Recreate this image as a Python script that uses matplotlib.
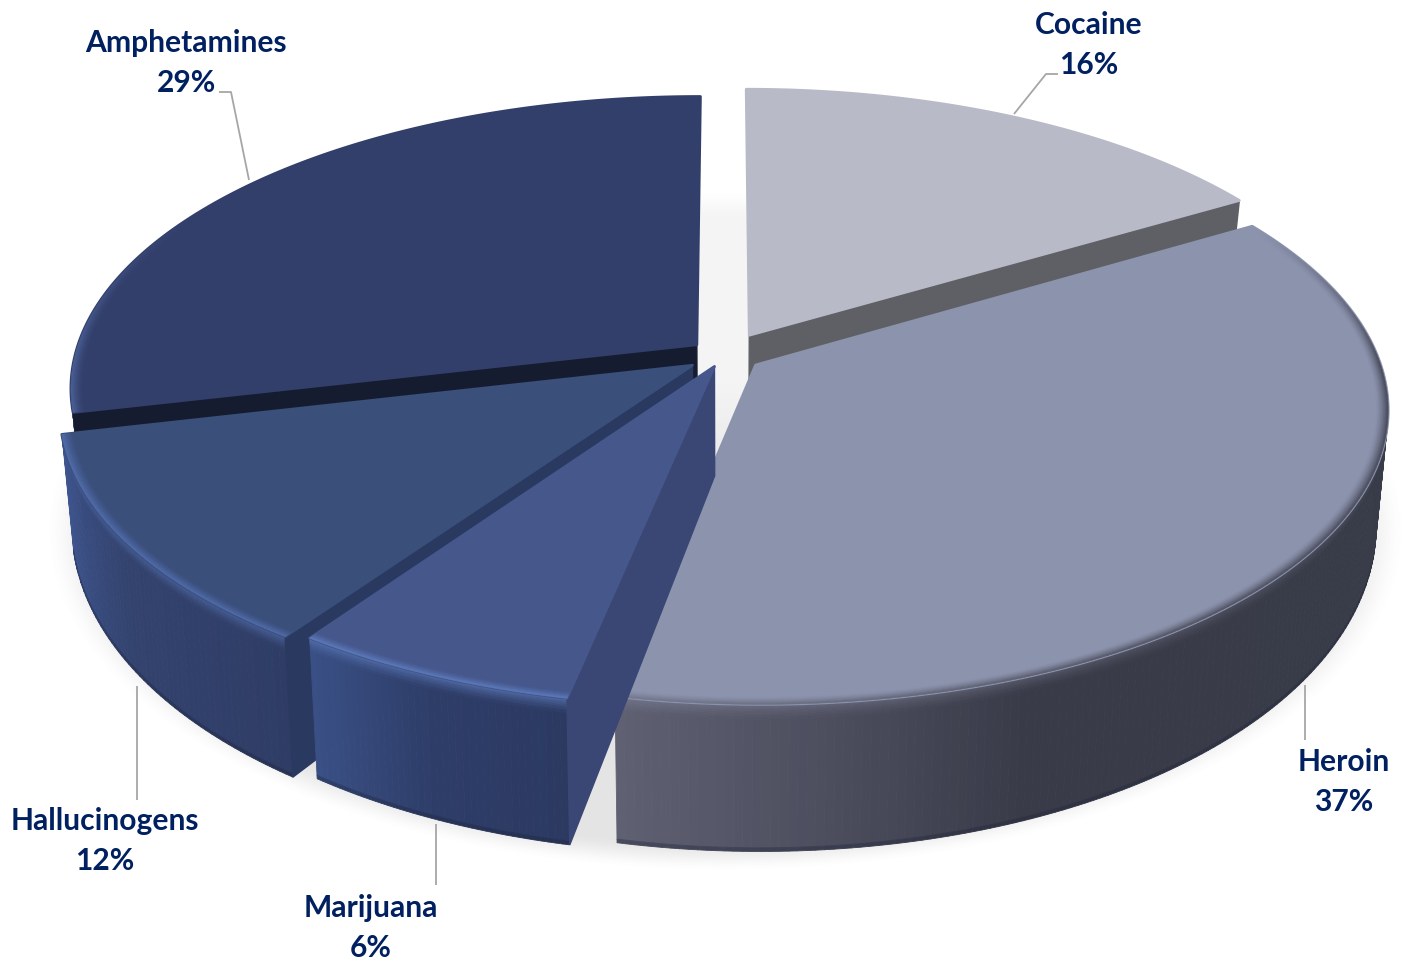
import numpy as np
import matplotlib
matplotlib.use("Agg")
import matplotlib.pyplot as plt
from matplotlib.collections import PolyCollection
from matplotlib.colors import to_rgb

# -------------------------
# DATA
# -------------------------
categories = ["Cocaine", "Heroin", "Marijuana", "Hallucinogens", "Amphetamines"]
# the labels show them rounded
shares = [16.4, 36.8, 6.4, 11.7, 28.7]

# -------------------------
# STYLE
# -------------------------
explode = [0.08, 0.06, 0.043, 0.063, 0.058]
top_colors = ["#b8bac8", "#8c93ad", "#46578c", "#3b4f7b", "#333f6b"]
cut_colors = ["#5f6065", "#5f6065", "#3a4775", "#2a3960", "#151c30"]
wall_stops = [
    ["#5f6065", "#5f6065", "#5f6065"],
    ["#383c48", "#383c48", "#383b48", "#3a3b49", "#5f6072"],
    ["#2c3a62", "#2e3d68", "#3a5186"],
    ["#2f3d66", "#33436e", "#3f5590"],
    ["#3d5184", "#333f6b", "#333f6b"],
]
rim_stops = [
    ["#8a8c98", "#8a8c98"],
    ["#4a4d5e", "#4c4f60", "#565969", "#767a90"],
    ["#5a78b8", "#5a78b8"],
    ["#4f6aa8", "#4f6aa8"],
    ["#4a5f95", "#333f6b"],
]
draw_order = [0, 4, 3, 1, 2]

# label text centre and leader line for each slice, pixels
label_pos = [(1089, 45), (1344, 782), (371, 928), (105, 841), (186, 63)]
leaders = [
    [(1058, 74), (1046, 74), (1014, 114)],
    [(1305, 685), (1305, 740)],
    [(436, 824), (436, 885)],
    [(137, 686), (137, 800)],
    [(219, 92), (231, 92), (249, 180)],
]

# projection of the pie plane to pixels
CX, CY = 725, 355
RX, RY = 622, 287
PERSP = 0.145
HEIGHT = 108
W, H = 1403, 961


def project(x, y):
    d = 1 + PERSP * y
    return CX + RX * x / d, CY - RY * y / d


def drop(x, y, v):
    # screen position of a plane point pushed down a fraction v of the pie height
    sx, sy = project(x, y)
    sx = CX + (sx - CX) * (1 - 0.018 * v)
    return sx, sy + v * HEIGHT * (1 - 0.35 * y)


def mix(a, b, f):
    a, b = np.array(to_rgb(a)), np.array(to_rgb(b))
    return tuple(a + (b - a) * f)


def ramp(stops, t):
    pos = t * (len(stops) - 1)
    i = min(int(pos), len(stops) - 2)
    return mix(stops[i], stops[i + 1], pos - i)


fig = plt.figure(figsize=(W / 100, H / 100), dpi=100)
ax = fig.add_axes([0, 0, 1, 1])
ax.set_xlim(0, W)
ax.set_ylim(H, 0)
ax.axis("off")

# -------------------------
# SOFT SHADOW
# -------------------------
X, Y = np.meshgrid(np.arange(W), np.arange(H))
dist = np.sqrt(((X - 725) / 682) ** 2 + ((Y - 530) / 342) ** 2)
alpha = np.clip((1 - dist) / 0.09, 0, 1)
shadow = np.zeros((H, W, 4))
shadow[..., :3] = 0.35
fade = 0.4 + 0.6 * np.clip((Y - 380) / 120, 0, 1)
shadow[..., 3] = 0.16 * fade * alpha * alpha * (3 - 2 * alpha)
ax.imshow(shadow, extent=(0, W, H, 0), zorder=1, aspect="auto")

# -------------------------
# SLICES
# -------------------------
fractions = np.array(shares) / sum(shares)
ends = np.cumsum(fractions) * 2 * np.pi
starts = ends - fractions * 2 * np.pi

z = 2
for i in draw_order:
    a0, a1 = starts[i], ends[i]
    mid = (a0 + a1) / 2
    ox, oy = explode[i] * np.sin(mid), explode[i] * np.cos(mid)
    th = np.linspace(a0, a1, max(int(fractions[i] * 500), 40))
    px, py = ox + np.sin(th), oy + np.cos(th)

    # outer wall, soft where it meets the top and darker at the foot
    rows = [0, 0.01, 0.02, 0.03, 0.045, 0.06, 0.08, 0.1, 0.975, 1]
    quads, colors = [], []
    for j in range(len(th) - 1):
        if np.cos(th[j]) > 0.1:
            continue  # faces away from the viewer
        t = (j + 0.5) / (len(th) - 1)
        base = ramp(wall_stops[i], t)
        rim = ramp(rim_stops[i], t)
        for r0, r1 in zip(rows[:-1], rows[1:]):
            quads.append([
                drop(px[j], py[j], r0), drop(px[j + 1], py[j + 1], r0),
                drop(px[j + 1], py[j + 1], r1), drop(px[j], py[j], r1),
            ])
            v = (r0 + r1) / 2
            c = mix(rim, base, min(v / 0.1, 1) ** 0.6)
            if v > 0.975:
                c = mix(c, "#1a2036", 0.35)
            colors.append(c)
    if quads:
        ax.add_collection(PolyCollection(quads, facecolors=colors, edgecolors=colors,
                                         linewidths=0.6, zorder=z))

    # cut faces, only the ones turned towards the viewer
    cuts = []
    if np.sin(a0) < -1e-6:
        cuts.append((px[0], py[0]))
    if np.sin(a1) > 1e-6:
        cuts.append((px[-1], py[-1]))
    for ex, ey in cuts:
        quad = [drop(ox, oy, 0), drop(ex, ey, 0), drop(ex, ey, 1), drop(ox, oy, 1)]
        ax.fill(*zip(*quad), color=cut_colors[i], lw=1, zorder=z + 0.1)

    # top face
    outline = [project(ox, oy)] + [project(a, b) for a, b in zip(px, py)]
    ax.fill(*zip(*outline), facecolor=top_colors[i], edgecolor=top_colors[i],
            lw=2, joinstyle="round", zorder=z + 0.2)

    # light band just inside the edge of the top face
    steps = np.linspace(0.982, 1.0, 9)
    quads, colors = [], []
    for j in range(len(th) - 1):
        t = (j + 0.5) / (len(th) - 1)
        front = np.clip((0.5 - np.cos((th[j] + th[j + 1]) / 2)) / 0.5, 0, 1)
        rim = mix(top_colors[i], ramp(rim_stops[i], t), front)
        for s0, s1 in zip(steps[:-1], steps[1:]):
            quads.append([
                project(ox + s0 * np.sin(th[j]), oy + s0 * np.cos(th[j])),
                project(ox + s0 * np.sin(th[j + 1]), oy + s0 * np.cos(th[j + 1])),
                project(ox + s1 * np.sin(th[j + 1]), oy + s1 * np.cos(th[j + 1])),
                project(ox + s1 * np.sin(th[j]), oy + s1 * np.cos(th[j])),
            ])
            colors.append(mix(top_colors[i], rim, ((s1 - 0.982) / 0.018) ** 1.5))
    ax.add_collection(PolyCollection(quads, facecolors=colors, edgecolors=colors,
                                     linewidths=0.4, zorder=z + 0.3))
    z += 1

# -------------------------
# LABELS
# -------------------------
for name, share, pos, line in zip(categories, shares, label_pos, leaders):
    ax.plot(*zip(*line), color="#a6a6a6", lw=1.3, zorder=20, solid_capstyle="butt")
    ax.text(pos[0], pos[1], f"{name}\n{share:.0f}%", ha="center", va="center",
            family="Lato", weight="bold", fontsize=21.6, color="#002060",
            linespacing=1.48, zorder=21)

fig.savefig("out.png", dpi=100)
